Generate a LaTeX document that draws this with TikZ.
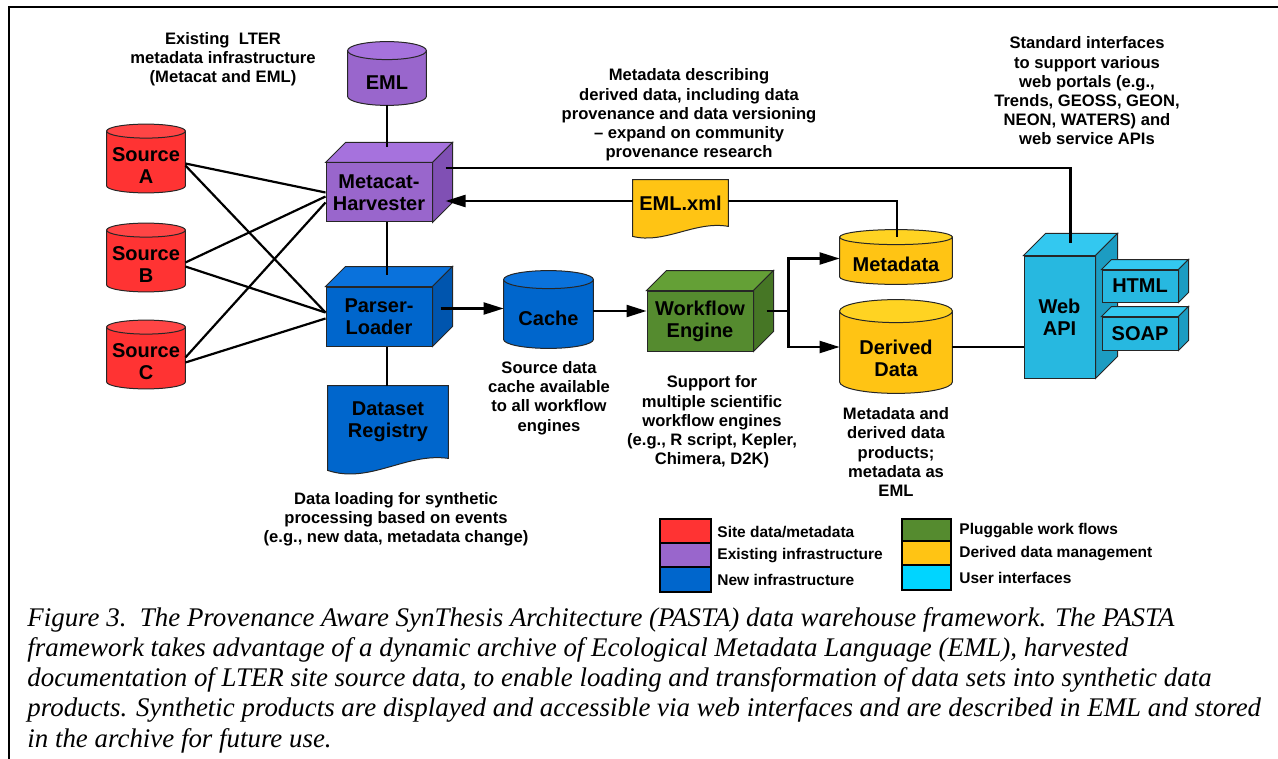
\documentclass[tikz,border=0pt]{standalone}
\usepackage{fontspec}
\setmainfont{Liberation Sans}
\newfontfamily\capfont{Liberation Serif}
\usetikzlibrary{arrows.meta,calc,backgrounds}

% fill colours
\definecolor{siteRed}{HTML}{FF3333}
\definecolor{siteRedTop}{HTML}{FF4545}
\definecolor{oldPurple}{HTML}{9966CC}
\definecolor{oldPurpleTop}{HTML}{A672DD}
\definecolor{oldPurpleSide}{HTML}{8050B4}
\definecolor{newBlue}{HTML}{0066CC}
\definecolor{newBlueTop}{HTML}{0A72DC}
\definecolor{newBlueSide}{HTML}{0055AE}
\definecolor{flowGreen}{HTML}{558B2F}
\definecolor{flowGreenTop}{HTML}{64A036}
\definecolor{flowGreenSide}{HTML}{467625}
\definecolor{derYellow}{HTML}{FFC414}
\definecolor{derYellowTop}{HTML}{FFD322}
\definecolor{uiCyan}{HTML}{27B8E0}
\definecolor{uiCyanTop}{HTML}{33C8F0}
\definecolor{uiCyanSide}{HTML}{1C9CC2}
\definecolor{keyCyan}{HTML}{00D5FF}

\tikzset{
  x=0.5pt, y=-0.5pt,
  sz/.style 2 args={minimum width=#1*0.5pt, minimum height=#2*0.5pt},
  lbl/.style={font=\fontsize{10}{11}\selectfont\bfseries, align=center, inner sep=0pt},
  note/.style={font=\fontsize{8.3}{9.6}\selectfont\bfseries, align=center, inner sep=0pt},
  keytext/.style={font=\fontsize{7.75}{9}\selectfont\bfseries, anchor=west, inner sep=0pt},
  face/.style={draw=black!85, line width=0.5pt},
  frontface/.style={lbl, face, fill=#1},
  wire/.style={line width=1.1pt, black},
  arr/.style={wire, -{Triangle[length=10pt,width=6pt]}},
  swatch/.style={draw=black, line width=0.6pt, inner sep=0pt, fill=#1},
  caption/.style={font=\fontsize{13.45}{15.1}\selectfont\capfont\itshape, align=left, inner sep=0pt},
}

% vertical drum behind a node: #1 node, #2 body, #3 lid, #4 lid half-height
\newcommand\tincan[4]{%
  \begin{pgfonlayer}{background}
  \draw[face,fill=#2] let \p1=(#1.north west), \p2=(#1.south east), \n1={(\x2-\x1)/2} in
    (\x1,\y1+#4) -- (\x1,\y2+#4)
    arc[start angle=180, end angle=360, x radius={\n1*1pt}, y radius=#4]
    -- (\x2,\y1+#4) -- cycle;
  \draw[face,fill=#3] let \p1=(#1.north west), \p2=(#1.south east), \n1={(\x2-\x1)/2} in
    ({(\x1+\x2)/2},\y1+#4) ellipse[x radius={\n1*1pt}, y radius=#4];
  \end{pgfonlayer}}

% top and right faces of a block: #1 node, #2 depth, #3 top, #4 side
\newcommand\blockfaces[4]{%
  \begin{pgfonlayer}{background}
  \draw[face,fill=#3] (#1.north west) -- ++(#2,-#2) -- ([shift={(#2,-#2)}]#1.north east)
    -- (#1.north east) -- cycle;
  \draw[face,fill=#4] (#1.north east) -- ++(#2,-#2) -- ([shift={(#2,-#2)}]#1.south east)
    -- (#1.south east) -- cycle;
  \end{pgfonlayer}}

\begin{document}
\begin{tikzpicture}
\useasboundingbox (0,0) rectangle (1278,759);

% frame
\draw[line width=1pt] (1278,7) -- (9,7) -- (9,759);

% ---- site sources
\node[lbl, sz={78}{54}] (srcA) at (146,165.5) {Source\\A};
\node[lbl, sz={78}{54}] (srcB) at (146,264.5) {Source\\B};
\node[lbl, sz={78}{54}] (srcC) at (146,361.5) {Source\\C};
\tincan{srcA}{siteRed}{siteRedTop}{3.5pt}
\tincan{srcB}{siteRed}{siteRedTop}{3.5pt}
\tincan{srcC}{siteRed}{siteRedTop}{3.5pt}

% ---- existing infrastructure
\node[lbl, sz={78}{45}] (eml) at (387,82.5) {EML};
\tincan{eml}{oldPurple}{oldPurpleTop}{4.5pt}
\node[frontface=oldPurple, sz={106}{59}] (mh) at (379,192.5) {Metacat-\\Harvester};
\blockfaces{mh}{20}{oldPurpleTop}{oldPurpleSide}

% ---- new infrastructure
\node[frontface=newBlue, sz={106}{59}] (pl) at (379,316.5) {Parser-\\Loader};
\blockfaces{pl}{20}{newBlueTop}{newBlueSide}
\node[lbl, sz={120}{72}] (reg) at (388,422) {Dataset\\Registry};
\begin{pgfonlayer}{background}
\draw[face, fill=newBlue] (reg.north west) -- (reg.north east) -- (reg.south east)
  .. controls ([shift={(-43,-6)}]reg.south east) and ([shift={(42,26)}]reg.south west)
  .. ([shift={(0,12)}]reg.south west) -- cycle;
\end{pgfonlayer}
\node[lbl, sz={89}{59}] (cache) at (548.5,318.5) {Cache};
\tincan{cache}{newBlue}{newBlueTop}{4.5pt}

% ---- workflow
\node[frontface=flowGreen, sz={106}{60}] (wf) at (700,321) {Workflow\\Engine};
\blockfaces{wf}{20}{flowGreenTop}{flowGreenSide}

% ---- derived data management
\node[lbl, sz={95}{46}] (xml) at (680.5,203) {EML.xml};
\begin{pgfonlayer}{background}
\draw[face, fill=derYellow] (xml.north west) -- (xml.north east) -- (xml.south east)
  .. controls ([shift={(-33,-6)}]xml.south east) and ([shift={(32,18)}]xml.south west)
  .. ([shift={(0,10)}]xml.south west) -- cycle;
\end{pgfonlayer}
\node[lbl, sz={112}{39}] (meta) at (896,264.5) {Metadata};
\tincan{meta}{derYellow}{derYellowTop}{3.75pt}
\node[lbl, sz={112}{70}] (der) at (896,358) {Derived\\Data};
\tincan{der}{derYellow}{derYellowTop}{5.75pt}

% ---- user interfaces
\node[frontface=uiCyan, sz={71}{122}] (web) at (1059.5,317) {Web\\API};
\blockfaces{web}{22}{uiCyanTop}{uiCyanSide}
\node[frontface=uiCyan, sz={76}{32}] (html) at (1140,286) {HTML};
\blockfaces{html}{10}{uiCyanTop}{uiCyanSide}
\node[frontface=uiCyan, sz={76}{33}] (soap) at (1140,333.5) {SOAP};
\blockfaces{soap}{10}{uiCyanTop}{uiCyanSide}

% ---- connectors
\draw[wire] ([shift={(0,-2)}]srcA.east) -- (mh.west);
\draw[wire] (srcA.east) -- ([shift={(0,-4)}]pl.west);
\draw[wire] ([shift={(0,-2)}]srcB.east) -- ([shift={(0,4)}]mh.west);
\draw[wire] ([shift={(0,2)}]srcB.east) -- ([shift={(0,-4)}]pl.west);
\draw[wire] ([shift={(0,-4)}]srcC.east) -- ([shift={(0,10)}]mh.west);
\draw[wire] ([shift={(0,1)}]srcC.east) -- ([shift={(0,2)}]pl.west);

\draw[wire] (eml.south) -- ([shift={(8,-15)}]mh.north);
\draw[wire] ([shift={(8,0)}]mh.south) -- ([shift={(8,-12)}]pl.north);
\draw[wire] ([shift={(8,0)}]pl.south) coordinate (plbot) -- (plbot |- reg.north);

\coordinate (plout) at ([shift={(8,-8)}]pl.east);
\draw[arr] (plout) -- (plout -| cache.west);
\coordinate (wfin) at ([shift={(0,-10)}]wf.west);
\draw[arr] (wfin -| cache.east) -- (wfin);

\coordinate (wfout) at ([shift={(13,-10)}]wf.east);
\coordinate (fork) at ([shift={(22,0)}]wfout);
\draw[wire] (wfout) -- (fork);
\draw[arr] (fork) |- ([shift={(0,-6)}]meta.west);
\draw[arr] (fork) |- ([shift={(0,-11)}]der.west);

\coordinate (mhin) at ([shift={(13,8.5)}]mh.east);
\draw[arr] ([shift={(0,-2)}]xml.west) -- (mhin);
\draw[wire] ([shift={(0,-2)}]xml.east) -| ([shift={(1,-8)}]meta.north);

\coordinate (mhout) at ([shift={(13,-24.5)}]mh.east);
\draw[wire] (mhout) -| ([shift={(11,-13)}]web.north);
\coordinate (derout) at ([shift={(0,-11)}]der.east);
\draw[wire] (derout) -- (derout -| web.west);

% ---- notes
\node[note] (noteLTER) at (223,59) {Existing\ \ LTER\\metadata infrastructure\\(Metacat and EML)};
\node[note] (noteProv) at (689,115) {Metadata describing\\derived data, including data\\provenance and data versioning\\\textendash{} expand on community\\provenance research};
\node[note] (noteWeb) at (1087,91) {Standard interfaces\\to support various\\web portals (e.g.,\\Trends, GEOSS, GEON,\\NEON, WATERS) and\\web service APIs};
\node[note] (noteCache) at (549,398) {Source data\\cache available\\to all workflow\\engines};
\node[note] (noteWF) at (712,422) {Support for\\multiple scientific\\workflow engines\\(e.g., R script, Kepler,\\Chimera, D2K)};
\node[note] (noteDer) at (896,452) {Metadata and\\derived data\\products;\\metadata as\\EML};
\node[note] (noteReg) at (396,519) {Data loading for synthetic\\processing based on events\\(e.g., new data, metadata change)};

% ---- key
\node[swatch=siteRed,    sz={51}{24}] (k1) at (685.5,531) {};
\node[swatch=oldPurple,  sz={51}{24}] (k2) at (685.5,555) {};
\node[swatch=newBlue,    sz={51}{25}] (k3) at (685.5,579.5) {};
\node[swatch=flowGreen,  sz={49}{22}] (k4) at (926.5,530) {};
\node[swatch=derYellow,  sz={49}{24}] (k5) at (926.5,553) {};
\node[swatch=keyCyan,    sz={49}{25}] (k6) at (926.5,577.5) {};
\node[keytext] (t1) at (717,532) {Site data/metadata};
\node[keytext] (t2) at (717,556) {Existing infrastructure};
\node[keytext] (t3) at (717,580) {New infrastructure};
\node[keytext] (t4) at (959,531) {Pluggable work flows};
\node[keytext] (t5) at (959,554) {Derived data management};
\node[keytext] (t6) at (959,578) {User interfaces};

% ---- caption (anchored on the baseline of its last line)
\node[caption, anchor=base west] (cap) at (27,747) {Figure 3.\ \ The Provenance Aware SynThesis Architecture (PASTA) data warehouse framework. The PASTA\\
framework takes advantage of a dynamic archive of Ecological Metadata Language (EML), harvested\\
documentation of LTER site source data, to enable loading and transformation of data sets into synthetic data\\
products. Synthetic products are displayed and accessible via web interfaces and are described in EML and stored\\
in the archive for future use.};
\end{tikzpicture}
\end{document}
